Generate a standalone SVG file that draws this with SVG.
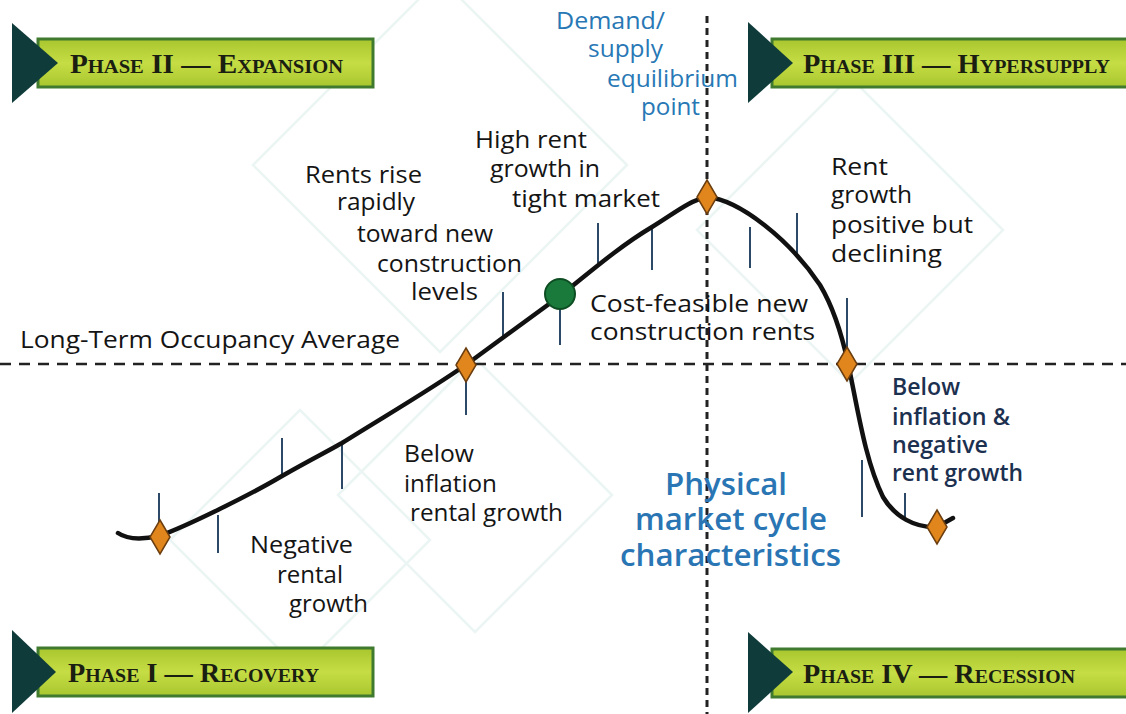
<svg xmlns="http://www.w3.org/2000/svg" width="1126" height="714" viewBox="0 0 1126 714">
<defs>
<linearGradient id="band" x1="0" y1="0" x2="0" y2="1">
<stop offset="0" stop-color="#a8c62e"/>
<stop offset="0.5" stop-color="#c6dd45"/>
<stop offset="1" stop-color="#a8c62e"/>
</linearGradient>
<style>
.bg{fill:none;stroke:#ebf5f3;stroke-width:2.5}
.band{fill:url(#band);stroke:#3f7a2e;stroke-width:3}
.tri{fill:#0f3c3a}
.ph{font-family:"Liberation Serif",serif;font-weight:bold;font-variant:small-caps;font-size:27px;fill:#1a1f12}
.t{font-family:"Open Sans","Noto Sans",sans-serif;font-size:24px;font-weight:500;fill:#141414}
.b{font-family:"Open Sans","Noto Sans",sans-serif;font-size:24px;font-weight:500;fill:#2878b5}
.n{font-family:"Open Sans","Noto Sans",sans-serif;font-size:24px;font-weight:600;fill:#1c3050}
.big{font-family:"Open Sans","Noto Sans",sans-serif;font-size:31px;font-weight:600;fill:#2a75b3}
.tick{stroke:#2c4a68;stroke-width:2}
.dia{fill:#e0861c;stroke:#6b3d0f;stroke-width:1.5}
</style>
</defs>
<rect width="1126" height="714" fill="#ffffff"/>
<g id="background">
<polygon class="bg" points="253,165 440,-22 627,165 440,352"/>
<polygon class="bg" points="338,495 475,358 612,495 475,632"/>
<polygon class="bg" points="170,540 300,410 430,540 300,670"/>
<polygon class="bg" points="697,230 850,77 1003,230 850,383"/>
</g>
<g id="axes">
<line x1="0" y1="364" x2="1126" y2="364" stroke="#222" stroke-width="2.5" stroke-dasharray="11,8"/>
<line x1="707" y1="16" x2="707" y2="714" stroke="#222" stroke-width="3" stroke-dasharray="7,5"/>
</g>
<g id="phase2">
<rect class="band" x="38" y="39" width="335" height="48"/>
<polygon class="tri" points="12,23 58,63 12,103"/>
<text class="ph" x="70" y="73" textLength="273" lengthAdjust="spacingAndGlyphs">Phase II — Expansion</text>
</g>
<g id="phase3">
<rect class="band" x="772" y="39" width="360" height="48"/>
<polygon class="tri" points="748,22 793,63 748,103"/>
<text class="ph" x="803" y="73" textLength="307" lengthAdjust="spacingAndGlyphs">Phase III — Hypersupply</text>
</g>
<g id="phase1">
<rect class="band" x="38" y="648" width="335" height="48"/>
<polygon class="tri" points="12,630 56,672 12,713"/>
<text class="ph" x="68" y="682" textLength="251" lengthAdjust="spacingAndGlyphs">Phase I — Recovery</text>
</g>
<g id="phase4">
<rect class="band" x="772" y="649" width="360" height="48"/>
<polygon class="tri" points="748,632 793,672 748,713"/>
<text class="ph" x="803" y="683" textLength="272" lengthAdjust="spacingAndGlyphs">Phase IV — Recession</text>
</g>
<g id="connectors">
<line class="tick" x1="159" y1="493" x2="159" y2="522"/>
<line class="tick" x1="218" y1="515" x2="218" y2="553"/>
<line class="tick" x1="282" y1="438" x2="282" y2="476"/>
<line class="tick" x1="342" y1="443" x2="342" y2="489"/>
<line class="tick" x1="466" y1="378" x2="466" y2="415"/>
<line class="tick" x1="503" y1="292" x2="503" y2="338"/>
<line class="tick" x1="560" y1="305" x2="560" y2="345"/>
<line class="tick" x1="598" y1="223" x2="598" y2="263"/>
<line class="tick" x1="652" y1="228" x2="652" y2="270"/>
<line class="tick" x1="750" y1="227" x2="750" y2="268"/>
<line class="tick" x1="797" y1="213" x2="797" y2="256"/>
<line class="tick" x1="847" y1="298" x2="847" y2="347"/>
<line class="tick" x1="862" y1="460" x2="862" y2="517"/>
<line class="tick" x1="905" y1="493" x2="905" y2="521"/>
<path d="M118,533 C128,540 145,539 159,536 C185,527 250,495 282,476 C310,460 330,450 342,443 C390,413 430,390 467,364 C500,340 530,318 560,296 C590,272 620,246 652,227 C672,215 690,200 707,197 C740,200 790,240 820,285 C835,310 843,340 848,363 C858,410 865,460 883,497 C895,517 915,528 937,527 L953,518" fill="none" stroke="#111" stroke-width="4.5" stroke-linejoin="round" stroke-linecap="round"/>
</g>
<g id="markers">
<polygon class="dia" points="160,520 170,537 160,554 150,537"/>
<polygon class="dia" points="466,348 476,365 466,382 456,365"/>
<polygon class="dia" points="707,180 717,197 707,214 697,197"/>
<polygon class="dia" points="847,347 857,364 847,381 837,364"/>
<polygon class="dia" points="937,510 947,527 937,544 927,527"/>
<circle cx="560" cy="294" r="15" fill="#1a7a3c" stroke="#0d4d22" stroke-width="2"/>
</g>
<g id="label-occupancy">
<text class="t" x="20" y="348" textLength="380" lengthAdjust="spacingAndGlyphs">Long-Term Occupancy Average</text>
</g>
<g id="label-rents-rise">
<text class="t" x="305" y="183" textLength="117" lengthAdjust="spacingAndGlyphs">Rents rise</text>
<text class="t" x="337" y="210" textLength="78" lengthAdjust="spacingAndGlyphs">rapidly</text>
<text class="t" x="357" y="242" textLength="136" lengthAdjust="spacingAndGlyphs">toward new</text>
<text class="t" x="377" y="272" textLength="145" lengthAdjust="spacingAndGlyphs">construction</text>
<text class="t" x="411" y="300" textLength="67" lengthAdjust="spacingAndGlyphs">levels</text>
</g>
<g id="label-high-rent">
<text class="t" x="475" y="148" textLength="112" lengthAdjust="spacingAndGlyphs">High rent</text>
<text class="t" x="490" y="177" textLength="110" lengthAdjust="spacingAndGlyphs">growth in</text>
<text class="t" x="512" y="207" textLength="148" lengthAdjust="spacingAndGlyphs">tight market</text>
</g>
<g id="label-equilibrium">
<text class="b" x="556" y="29" textLength="109" lengthAdjust="spacingAndGlyphs">Demand/</text>
<text class="b" x="588" y="57" textLength="75" lengthAdjust="spacingAndGlyphs">supply</text>
<text class="b" x="607" y="87" textLength="131" lengthAdjust="spacingAndGlyphs">equilibrium</text>
<text class="b" x="641" y="115" textLength="59" lengthAdjust="spacingAndGlyphs">point</text>
</g>
<g id="label-rent-growth">
<text class="t" x="831" y="175" textLength="57" lengthAdjust="spacingAndGlyphs">Rent</text>
<text class="t" x="831" y="203" textLength="81" lengthAdjust="spacingAndGlyphs">growth</text>
<text class="t" x="831" y="233" textLength="142" lengthAdjust="spacingAndGlyphs">positive but</text>
<text class="t" x="831" y="262" textLength="111" lengthAdjust="spacingAndGlyphs">declining</text>
</g>
<g id="label-cost-feasible">
<text class="t" x="590" y="312" textLength="218" lengthAdjust="spacingAndGlyphs">Cost-feasible new</text>
<text class="t" x="590" y="340" textLength="225" lengthAdjust="spacingAndGlyphs">construction rents</text>
</g>
<g id="label-below-inflation-negative">
<text class="n" x="892" y="395" textLength="68" lengthAdjust="spacingAndGlyphs">Below</text>
<text class="n" x="892" y="425" textLength="118" lengthAdjust="spacingAndGlyphs">inflation &amp;</text>
<text class="n" x="892" y="453" textLength="96" lengthAdjust="spacingAndGlyphs">negative</text>
<text class="n" x="892" y="481" textLength="131" lengthAdjust="spacingAndGlyphs">rent growth</text>
</g>
<g id="label-below-inflation">
<text class="t" x="404" y="462" textLength="70" lengthAdjust="spacingAndGlyphs">Below</text>
<text class="t" x="404" y="492" textLength="93" lengthAdjust="spacingAndGlyphs">inflation</text>
<text class="t" x="410" y="521" textLength="153" lengthAdjust="spacingAndGlyphs">rental growth</text>
</g>
<g id="label-negative">
<text class="t" x="250" y="553" textLength="103" lengthAdjust="spacingAndGlyphs">Negative</text>
<text class="t" x="277" y="583" textLength="66" lengthAdjust="spacingAndGlyphs">rental</text>
<text class="t" x="289" y="612" textLength="79" lengthAdjust="spacingAndGlyphs">growth</text>
</g>
<g id="label-physical">
<text class="big" x="665" y="495" textLength="122" lengthAdjust="spacingAndGlyphs">Physical</text>
<text class="big" x="635" y="530" textLength="192" lengthAdjust="spacingAndGlyphs">market cycle</text>
<text class="big" x="620" y="566" textLength="221" lengthAdjust="spacingAndGlyphs">characteristics</text>
</g>
</svg>
